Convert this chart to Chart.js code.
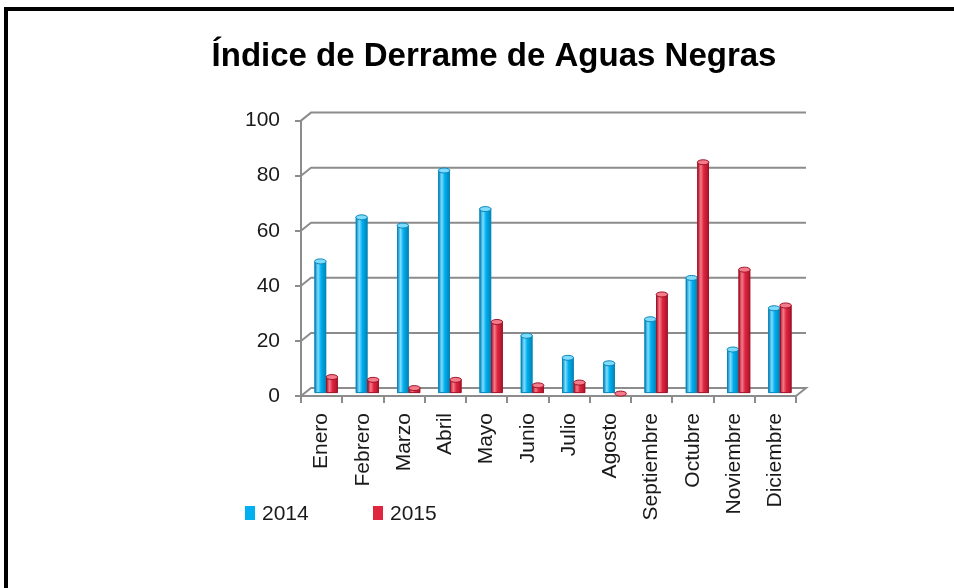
<!DOCTYPE html>
<html>
<head>
<meta charset="utf-8">
<script src="https://cdn.jsdelivr.net/npm/chart.js@4.4.1/dist/chart.umd.min.js"></script>
<style>
  html, body { margin: 0; padding: 0; background: #fff; }
  #wrap { position: relative; width: 954px; height: 588px; overflow: hidden; }
  #frame { position: absolute; left: 4px; top: 7px; width: 960px; height: 600px;
           border-top: 4px solid #000; border-left: 4px solid #000; pointer-events: none; }
</style>
</head>
<body>
<div id="wrap">
  <canvas id="chart" width="954" height="588"></canvas>
  <div id="frame"></div>
</div>
<script>
const categories = ['Enero', 'Febrero', 'Marzo', 'Abril', 'Mayo', 'Junio', 'Julio',
    'Agosto', 'Septiembre', 'Octubre', 'Noviembre', 'Diciembre'];
const values2014 = [48, 64, 61, 81, 67, 21, 13, 11, 27, 42, 16, 31];
const values2015 = [6, 5, 2, 5, 26, 3, 4, 0, 36, 84, 45, 32];
const seriesNames = ['2014', '2015'];
const yMin = 0, yMax = 100, yStep = 20;

const DX = 10, DY = 8;   // depth offset of the back wall
const gridColor = '#8c8c8c';
const fontFamily = '"Liberation Sans", Arial, sans-serif';
const shades = {
    '2014': { base: '#00b0f0', dark: '#0082b4', light: '#7fdcff', edge: '#0a86b8' },
    '2015': { base: '#e0253f', dark: '#a8142b', light: '#f57a8a', edge: '#9e1428' },
};

// back wall gridlines with the small diagonal joins, then move bars to mid depth
const wallPlugin = {
    id: 'wall',
    beforeDatasetsDraw(chart) {
        const { ctx, chartArea: a, scales: { y } } = chart;
        ctx.save();
        ctx.strokeStyle = gridColor;
        ctx.lineWidth = 2;
        y.ticks.forEach(t => {
            const py = y.getPixelForValue(t.value);
            ctx.beginPath();
            ctx.moveTo(a.left, py);
            ctx.lineTo(a.left + DX, py - DY);
            ctx.lineTo(a.right + DX, py - DY);
            if (t.value === yMin) ctx.lineTo(a.right, py);
            ctx.stroke();
        });
        ctx.restore();
        ctx.save();
        ctx.translate(DX * 0.45, -DY * 0.3);
    },
};

// cylinder shading + top ellipse on each bar
const cylinderPlugin = {
    id: 'cylinder',
    afterDatasetsDraw(chart) {
        const ctx = chart.ctx;
        chart.data.datasets.forEach((ds, i) => {
            const s = shades[ds.label];
            chart.getDatasetMeta(i).data.forEach(el => {
                const { x, y, base, width } = el.getProps(['x', 'y', 'base', 'width'], true);
                const l = x - width / 2, r = x + width / 2;
                const g = ctx.createLinearGradient(l, 0, r, 0);
                g.addColorStop(0, s.dark);
                g.addColorStop(0.3, s.light);
                g.addColorStop(0.55, s.base);
                g.addColorStop(1, s.dark);
                ctx.save();
                ctx.fillStyle = g;
                ctx.fillRect(l, y, width, base - y);
                ctx.strokeStyle = s.edge;
                ctx.lineWidth = 1;
                ctx.strokeRect(l + 0.5, y, width - 1, base - y);
                ctx.beginPath();
                ctx.ellipse(x, y, width / 2, 2.5, 0, 0, Math.PI * 2);
                ctx.fillStyle = s.light;
                ctx.fill();
                ctx.stroke();
                ctx.restore();
            });
        });
        ctx.restore();
    },
};

// legend drawn under the chart on the left
const legendPlugin = {
    id: 'sideLegend',
    afterDraw(chart) {
        const ctx = chart.ctx;
        const xs = [245, 373];
        ctx.save();
        ctx.font = '21px ' + fontFamily;
        ctx.textBaseline = 'middle';
        chart.data.datasets.forEach((ds, i) => {
            ctx.fillStyle = shades[ds.label].base;
            ctx.fillRect(xs[i], 506, 10, 14);
            ctx.fillStyle = '#1a1a1a';
            ctx.fillText(ds.label, xs[i] + 17, 514);
        });
        ctx.restore();
    },
};

new Chart(document.getElementById('chart'), {
    type: 'bar',
    data: {
        labels: categories,
        datasets: [
            { label: seriesNames[0], data: values2014, backgroundColor: shades['2014'].base },
            { label: seriesNames[1], data: values2015, backgroundColor: shades['2015'].base },
        ],
    },
    options: {
        responsive: false,
        animation: false,
        events: [],
        layout: { padding: { left: 34, right: 0, top: 10, bottom: 0 } },
        datasets: { bar: { barPercentage: 1, categoryPercentage: 0.56 } },
        plugins: {
            legend: { display: false },
            tooltip: { enabled: false },
            title: {
                display: true,
                text: 'Índice de Derrame de Aguas Negras',
                color: '#000',
                font: { family: fontFamily, size: 33, weight: 'bold' },
                padding: { top: 27, bottom: 44 },
            },
        },
        scales: {
            x: {
                afterFit: s => { s.height = 192; },
                grid: { display: true, drawOnChartArea: false, tickLength: 7, color: gridColor, lineWidth: 2 },
                border: { display: true, color: gridColor, width: 2 },
                ticks: {
                    minRotation: 90, maxRotation: 90, padding: 10, color: '#1a1a1a', autoSkip: false,
                    font: { family: fontFamily, size: 21 },
                },
            },
            y: {
                min: yMin, max: yMax,
                afterFit: s => { s.width = 267; },
                grid: { display: true, drawOnChartArea: false, tickLength: 6, color: gridColor, lineWidth: 2 },
                border: { display: true, color: gridColor, width: 2 },
                ticks: {
                    stepSize: yStep, padding: 15, color: '#1a1a1a',
                    font: { family: fontFamily, size: 21 },
                },
            },
            // empty right-hand spacer so the title centres over the whole picture
            spacer: {
                type: 'linear', position: 'right', min: yMin, max: yMax,
                afterFit: s => { s.width = 158; },
                grid: { display: false }, border: { display: false }, ticks: { display: false },
            },
        },
    },
    plugins: [wallPlugin, cylinderPlugin, legendPlugin],
});
</script>
</body>
</html>
